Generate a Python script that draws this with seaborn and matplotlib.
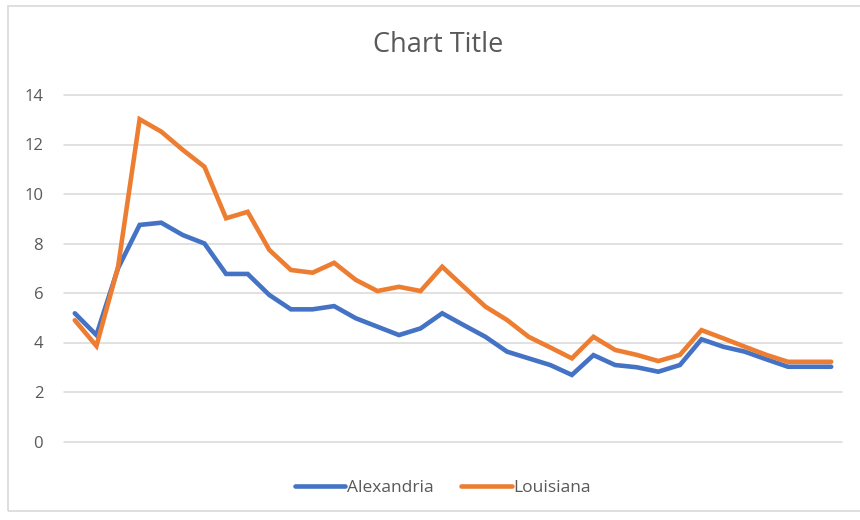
import matplotlib
matplotlib.use("Agg")
import matplotlib.pyplot as plt
from matplotlib.patches import Rectangle
import pandas as pd
import seaborn as sns

# Monthly rate series for the two areas
alexandria = [5.18, 4.30, 7.00, 8.75, 8.84, 8.34, 8.00, 6.77, 6.77, 5.92,
              5.34, 5.34, 5.47, 4.98, 4.64, 4.30, 4.57, 5.18, 4.70, 4.23,
              3.63, 3.36, 3.09, 2.69, 3.49, 3.09, 3.00, 2.82, 3.09, 4.13,
              3.83, 3.63, 3.32, 3.02, 3.02, 3.02]
louisiana = [4.90, 3.86, 7.05, 13.02, 12.52, 11.78, 11.10, 9.02, 9.28, 7.74,
             6.93, 6.82, 7.22, 6.53, 6.08, 6.25, 6.08, 7.06, 6.25, 5.45,
             4.91, 4.23, 3.80, 3.36, 4.23, 3.70, 3.50, 3.25, 3.50, 4.50,
             4.17, 3.83, 3.50, 3.22, 3.22, 3.22]
series_names = ["Alexandria", "Louisiana"]
y_ticks = [0, 2, 4, 6, 8, 10, 12, 14]
title = "Chart Title"

colors = {"Alexandria": "#4472C4", "Louisiana": "#ED7D31"}
text_gray = "#595959"

n = len(alexandria)
df = pd.DataFrame({
    "idx": list(range(n)) * 2,
    "value": alexandria + louisiana,
    "series": [series_names[0]] * n + [series_names[1]] * n,
})

sns.set_style("white")
plt.rcParams["font.family"] = ["Open Sans", "DejaVu Sans"]

fig = plt.figure(figsize=(8.6, 5.2), dpi=100)
ax = fig.add_axes([64 / 860, 1 - 441.5 / 520, (842 - 64) / 860, (441.5 - 95) / 520])

# light chart-area frame
fig.patches.append(Rectangle((8 / 860, 1 - 511 / 520), 1.0, (511 - 6) / 520,
                             transform=fig.transFigure, fill=False,
                             edgecolor="#D9D9D9", linewidth=1.2, zorder=0))

for yv in y_ticks:
    ax.axhline(yv, color="#D9D9D9", linewidth=1.1, zorder=0)

sns.lineplot(data=df, x="idx", y="value", hue="series", palette=colors,
             linewidth=3.3, ax=ax, legend=False, sort=False)
for line in ax.lines:
    line.set_clip_on(False)
    line.set_solid_joinstyle("miter")

ax.set_xlim(-0.5, n - 0.5)
ax.set_ylim(0, 14)
ax.set_yticks(y_ticks)
ax.set_yticklabels([str(v) for v in y_ticks], color=text_gray, fontsize=12)
ax.set_xticks([])
ax.set_xlabel("")
ax.set_ylabel("")
ax.tick_params(axis="y", length=0, pad=15)
for s in ax.spines.values():
    s.set_visible(False)
ax.grid(False)

fig.text(438 / 860, 1 - 45 / 520, title, ha="center", va="center",
         fontsize=19.5, color=text_gray)

handles = [plt.Line2D([], [], color=colors[s], linewidth=3.3) for s in series_names]
fig.legend(handles, series_names, loc="center", bbox_to_anchor=(443 / 860, 1 - 488 / 520),
           ncol=2, frameon=False, fontsize=12.5, handlelength=2.9, handletextpad=0.1,
           columnspacing=1.6, labelcolor=text_gray)

fig.savefig("out.png", dpi=100, facecolor="white")
